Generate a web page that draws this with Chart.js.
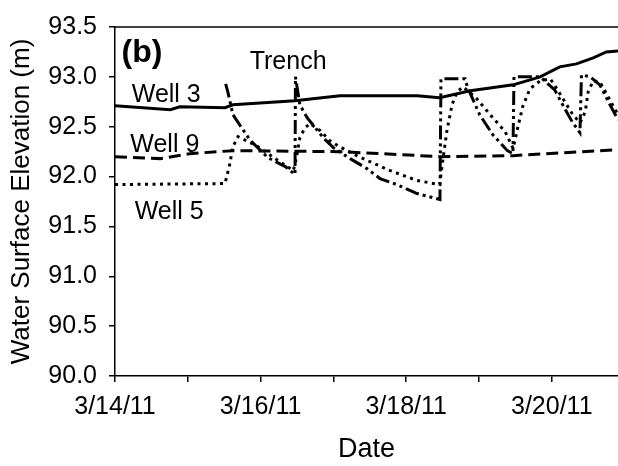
<!DOCTYPE html>
<html lang="en">
<head>
  <meta charset="UTF-8" />
  <title>Water Surface Elevation (b)</title>
  <script src="https://cdn.jsdelivr.net/npm/chart.js"></script>
  <style>
    html, body {
      margin: 0;
      padding: 0;
      background: #fff;
    }
    .wrap {
      width: 618px;
      height: 466px;
    }
  </style>
</head>
<body>
  <div class="wrap"><canvas id="chart" width="618" height="466"></canvas></div>

  <script>
    // x = days since 3/14/11 00:00, y = elevation (m)
    const tickDates = ['3/14/11', '3/15/11', '3/16/11', '3/17/11', '3/18/11', '3/19/11', '3/20/11'];

    const well3Days = [0, 0.76, 0.89, 1.51, 1.62, 2.47, 3.09, 4.15, 4.46, 4.88, 5.47, 5.84, 6.11, 6.34, 6.57, 6.75, 6.91];
    const well3Elev = [92.71, 92.67, 92.70, 92.69, 92.72, 92.76, 92.81, 92.81, 92.79, 92.86, 92.92, 93.00, 93.10, 93.13, 93.19, 93.25, 93.26];

    const well9Days = [0, 0.62, 1.03, 1.62, 3.09, 4.46, 5.47, 6.91];
    const well9Elev = [92.20, 92.18, 92.23, 92.26, 92.25, 92.20, 92.21, 92.27];

    const well5Days = [0, 1.51, 1.57, 1.62, 1.69, 1.92, 2.20, 2.45, 2.49, 2.54, 2.61, 2.68, 2.82, 2.95, 3.06, 3.32, 3.50, 3.78, 4.15, 4.46,
                       4.51, 4.56, 4.63, 4.70, 4.78, 4.88, 4.97, 5.19, 5.36, 5.47, 5.52, 5.60, 5.70, 5.84, 5.98, 6.07, 6.18, 6.29, 6.39,
                       6.46, 6.50, 6.57, 6.66, 6.76, 6.91];
    const well5Elev = [91.92, 91.93, 92.10, 92.30, 92.40, 92.32, 92.18, 92.06, 92.18, 92.39, 92.49, 92.53, 92.46, 92.36, 92.31, 92.21, 92.15, 92.06, 91.96, 91.92,
                       92.20, 92.46, 92.72, 92.85, 92.90, 92.84, 92.78, 92.59, 92.45, 92.28, 92.45, 92.70, 92.88, 92.96, 92.98, 92.88, 92.75, 92.62, 92.54,
                       92.65, 92.85, 92.96, 92.95, 92.82, 92.62];

    const trenchDays = [1.52, 1.55, 1.62, 1.85, 2.10, 2.34, 2.473, 2.479, 2.54, 2.64, 2.86, 3.00, 3.23, 3.46, 3.64, 3.87, 4.15, 4.464,
                        4.478, 4.81, 4.84, 5.01, 5.19, 5.39, 5.467, 5.481, 5.84, 6.04, 6.15, 6.28, 6.387, 6.408, 6.53, 6.66, 6.80, 6.91];
    const trenchElev = [92.93, 92.85, 92.62, 92.37, 92.19, 92.10, 92.02, 93.00, 92.72, 92.59, 92.39, 92.29, 92.18, 92.08, 91.98, 91.92, 91.83, 91.77,
                        92.98, 92.98, 92.90, 92.62, 92.42, 92.26, 92.23, 93.00, 93.00, 92.87, 92.72, 92.55, 92.44, 93.02, 93.00, 92.92, 92.72, 92.57];

    const toPoints = (xs, ys) => xs.map((x, i) => ({ x: x, y: ys[i] }));

    const FONT = 'Liberation Sans, Arial, sans-serif';

    // top frame line + text labels on the plot
    const extras = {
      id: 'extras',
      afterDraw(chart) {
        const { ctx, chartArea: a, scales: { x, y } } = chart;
        ctx.save();
        ctx.strokeStyle = '#000';
        ctx.lineWidth = 1.5;
        ctx.beginPath();
        ctx.moveTo(a.left, a.top);
        ctx.lineTo(a.right, a.top);
        ctx.stroke();

        ctx.fillStyle = '#000';
        ctx.textBaseline = 'alphabetic';
        ctx.textAlign = 'left';
        ctx.font = 'bold 32px ' + FONT;
        ctx.fillText('(b)', x.getPixelForValue(0.09), y.getPixelForValue(93.15));
        ctx.font = '25px ' + FONT;
        ctx.fillText('Trench', x.getPixelForValue(1.85), y.getPixelForValue(93.08));
        ctx.fillText('Well 3', x.getPixelForValue(0.23), y.getPixelForValue(92.75));
        ctx.fillText('Well 9', x.getPixelForValue(0.21), y.getPixelForValue(92.25));
        ctx.fillText('Well 5', x.getPixelForValue(0.27), y.getPixelForValue(91.57));
        ctx.restore();
      }
    };

    const lineStyle = { borderColor: '#000', borderWidth: 3, pointRadius: 0, tension: 0, fill: false };

    new Chart(document.getElementById('chart').getContext('2d'), {
      type: 'line',
      data: {
        datasets: [
          Object.assign({ label: 'Well 3', data: toPoints(well3Days, well3Elev) }, lineStyle),
          Object.assign({ label: 'Well 9', data: toPoints(well9Days, well9Elev), borderDash: [12, 6] }, lineStyle),
          Object.assign({ label: 'Well 5', data: toPoints(well5Days, well5Elev), borderDash: [3, 4.5] }, lineStyle),
          Object.assign({ label: 'Trench', data: toPoints(trenchDays, trenchElev), borderDash: [14, 4, 3, 4, 3, 4] }, lineStyle)
        ]
      },
      options: {
        responsive: false,
        animation: false,
        layout: { padding: { top: 21, right: 0, left: 0, bottom: 0 } },
        plugins: { legend: { display: false }, tooltip: { enabled: false } },
        scales: {
          x: {
            type: 'linear',
            min: 0,
            max: 6.91,
            afterFit: s => { s.height = 90; },
            afterBuildTicks: s => { s.ticks = tickDates.map((_, i) => ({ value: i })); },
            ticks: {
              autoSkip: false,
              maxRotation: 0,
              padding: 10,
              color: '#000',
              font: { family: FONT, size: 25 },
              callback: v => (v % 2 === 0 ? tickDates[v] : '')
            },
            grid: { drawOnChartArea: false, drawTicks: true, tickLength: 6, color: '#000', lineWidth: 1.5 },
            border: { display: true, color: '#000', width: 1.5 },
            title: { display: true, text: 'Date', color: '#000', font: { family: FONT, size: 27 }, padding: { top: 0, bottom: 0 } }
          },
          y: {
            min: 90,
            max: 93.5,
            afterFit: s => { s.width = 115; },
            ticks: {
              stepSize: 0.5,
              padding: 12,
              color: '#000',
              font: { family: FONT, size: 25 },
              callback: v => v.toFixed(1)
            },
            grid: { drawOnChartArea: false, drawTicks: true, tickLength: 6, color: '#000', lineWidth: 1.5 },
            border: { display: true, color: '#000', width: 1.5 },
            title: { display: true, text: 'Water Surface Elevation (m)', color: '#000', font: { family: FONT, size: 26 }, padding: { top: 6, bottom: 0 } }
          }
        }
      },
      plugins: [extras]
    });
  </script>
</body>
</html>
